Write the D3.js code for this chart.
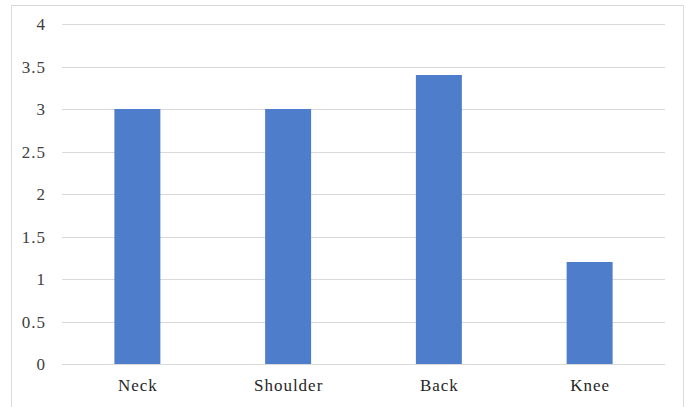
<!DOCTYPE html>
<html>
<head>
<meta charset="utf-8">
<script src="https://cdn.jsdelivr.net/npm/d3@7/dist/d3.min.js"></script>
</head>
<body style="margin:0">
<svg id="chart" width="686" height="407"></svg>
<script>
// Chart data
const categories = ["Neck", "Shoulder", "Back", "Knee"];
const values = [3, 3, 3.4, 1.2];
const yTicks = [0, 0.5, 1, 1.5, 2, 2.5, 3, 3.5, 4];

const svg = d3.select("#chart");
const fmt = d3.format("~g");

// Outer chart frame
svg.append("rect")
  .attr("x", 11.5).attr("y", 5.5)
  .attr("width", 672).attr("height", 420)
  .attr("fill", "#fff")
  .attr("stroke", "#d9d9d9")
  .attr("stroke-width", 1);

const plot = { left: 62, right: 665, top: 24, bottom: 364 };

const x = d3.scaleBand()
  .domain(categories)
  .range([plot.left, plot.right])
  .paddingInner(0.695)
  .paddingOuter(0.3475);

const y = d3.scaleLinear()
  .domain([0, 4])
  .range([plot.bottom, plot.top]);

// Horizontal gridlines
svg.selectAll("line.grid")
  .data(yTicks)
  .join("line")
  .attr("class", "grid")
  .attr("x1", plot.left).attr("x2", plot.right)
  .attr("y1", d => Math.round(y(d)) + 0.5)
  .attr("y2", d => Math.round(y(d)) + 0.5)
  .attr("stroke", "#d9d9d9")
  .attr("stroke-width", 1);

// Bars
svg.selectAll("rect.bar")
  .data(values)
  .join("rect")
  .attr("class", "bar")
  .attr("x", (d, i) => x(categories[i]))
  .attr("width", x.bandwidth())
  .attr("y", d => y(d))
  .attr("height", d => y(0) - y(d))
  .attr("fill", "#4e7dcb");

// Value-axis labels
svg.selectAll("text.ytick")
  .data(yTicks)
  .join("text")
  .attr("class", "ytick")
  .attr("x", 46)
  .attr("y", d => y(d) + 6)
  .attr("text-anchor", "end")
  .attr("fill", "#404040")
  .style("font-family", '"Liberation Serif"')
  .style("font-size", "17px")
  .style("letter-spacing", "1px")
  .text(d => fmt(d));

// Category labels
svg.selectAll("text.xtick")
  .data(categories)
  .join("text")
  .attr("class", "xtick")
  .attr("x", d => x(d) + x.bandwidth() / 2 + 0.5)
  .attr("y", plot.bottom + 27)
  .attr("text-anchor", "middle")
  .attr("fill", "#262626")
  .style("font-family", '"Liberation Serif"')
  .style("font-size", "17px")
  .style("letter-spacing", "1px")
  .text(d => d);
</script>
</body>
</html>
